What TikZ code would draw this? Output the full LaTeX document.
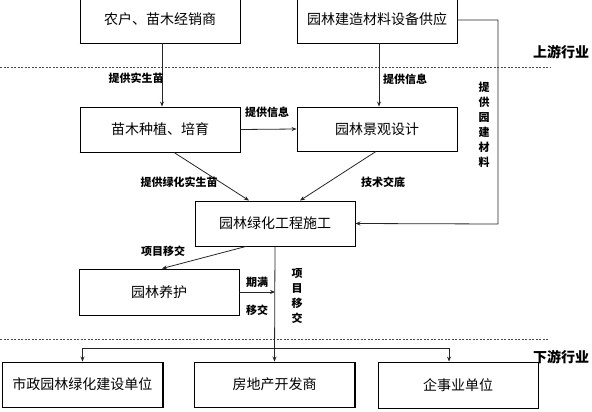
\documentclass[tikz,border=0pt]{standalone}
\usepackage{fontspec}
\setmainfont{Noto Sans CJK SC}
\usetikzlibrary{arrows.meta,calc}
\begin{document}
\begin{tikzpicture}[x=1pt,y=-1pt,
  boxst/.style={draw, line width=0.9pt, minimum width=160pt, minimum height=45pt, inner sep=0pt, font=\fontsize{14}{16}\selectfont},
  arr/.style={-{Stealth[length=5pt,width=4pt]}, line width=0.8pt, draw=black!85},
  ln/.style={line width=0.8pt, draw=black!85},
  lab/.style={font=\fontsize{11}{12}\selectfont\bfseries, inner sep=0pt},
  vlab/.style={font=\fontsize{11}{15}\selectfont\bfseries, inner sep=0pt, align=center},
  sec/.style={font=\fontsize{14}{16}\selectfont\bfseries, inner sep=0pt},
  dsh/.style={draw=black!70, line width=0.7pt, dash pattern=on 2pt off 1.5pt}]
\useasboundingbox (0,0) rectangle (592,412);

% boxes
\node[boxst, minimum height=48pt] (b1) at (160,19) {农户、苗木经销商};
\node[boxst, minimum height=48pt] (b2) at (377,19) {园林建造材料设备供应};
\node[boxst] (b3) at (160,129.5) {苗木种植、培育};
\node[boxst, minimum height=44pt] (b4) at (377,129) {园林景观设计};
\node[boxst] (b5) at (275,223.5) {园林绿化工程施工};
\node[boxst, minimum height=46pt] (b6) at (159,292) {园林养护};
\node[boxst] (b7) at (82.5,384.5) {市政园林绿化建设单位};
\node[boxst] (b8) at (274.5,384.5) {房地产开发商};
\node[boxst, minimum height=46pt] (b9) at (458,385) {企事业单位};

\foreach \n in {b1,b2,b3,b4,b5,b6,b7,b8,b9}
  \draw[line width=1.6pt] (\n.south west) -- (\n.south east) -- (\n.north east);

% dashed separators
\draw[dsh] (0,67) -- (550,67);
\draw[dsh] (0,339) -- (548,339);
\node[sec] (up) at (561,52) {上游行业};
\node[sec] (down) at (561,357) {下游行业};

% connectors
\draw[arr] ($(b1.south)+(2,0)$) -- ($(b3.north)+(2,0)$);
\node[lab] (l1) at (136,78) {提供实生苗};

\draw[arr] ($(b2.south)+(2,0)$) -- ($(b4.north)+(2,0)$);
\node[lab] (l2) at (405,79) {提供信息};

\draw[arr] (b3.east) -- (b4.west);
\node[lab] (l3) at (267,112) {提供信息};

\coordinate (c1) at (498,20);
\coordinate (c2) at (498,224);
\draw[arr] (b2.east |- c1) -- (c1) -- (c2) -- (b5.east);
\node[vlab] (l4) at (484,125) {提\\供\\园\\建\\材\\料};

\draw[arr] ($(b3.south)+(14,0)$) -- ($(b5.north)+(-26,0)$);
\node[lab] (l5) at (179,182) {提供绿化实生苗};

\draw[arr] ($(b4.south)+(-1,0)$) -- ($(b5.north)+(25,0)$);
\node[lab] (l6) at (383,182) {技术交底};

\draw[arr] ($(b5.south)+(-29,0)$) -- ($(b6.north)+(3,0)$);
\node[lab] (l7) at (163,251) {项目移交};

\draw[arr] (b5.south) -- (b8.north);
\draw[arr] (b6.east) -- (b6.east -| b5.south);
\node[lab] (l8) at (257,282) {期满};
\node[lab] (l9) at (257,310) {移交};
\node[vlab] (l10) at (297,295.5) {项\\目\\移\\交};

\coordinate (j) at (275,348);
\coordinate (j2) at (449,348);
\draw[arr] (j) -| (b7.north);
\draw[arr] (j) -- (j2) -- (j2 |- b9.north);
\end{tikzpicture}
\end{document}
